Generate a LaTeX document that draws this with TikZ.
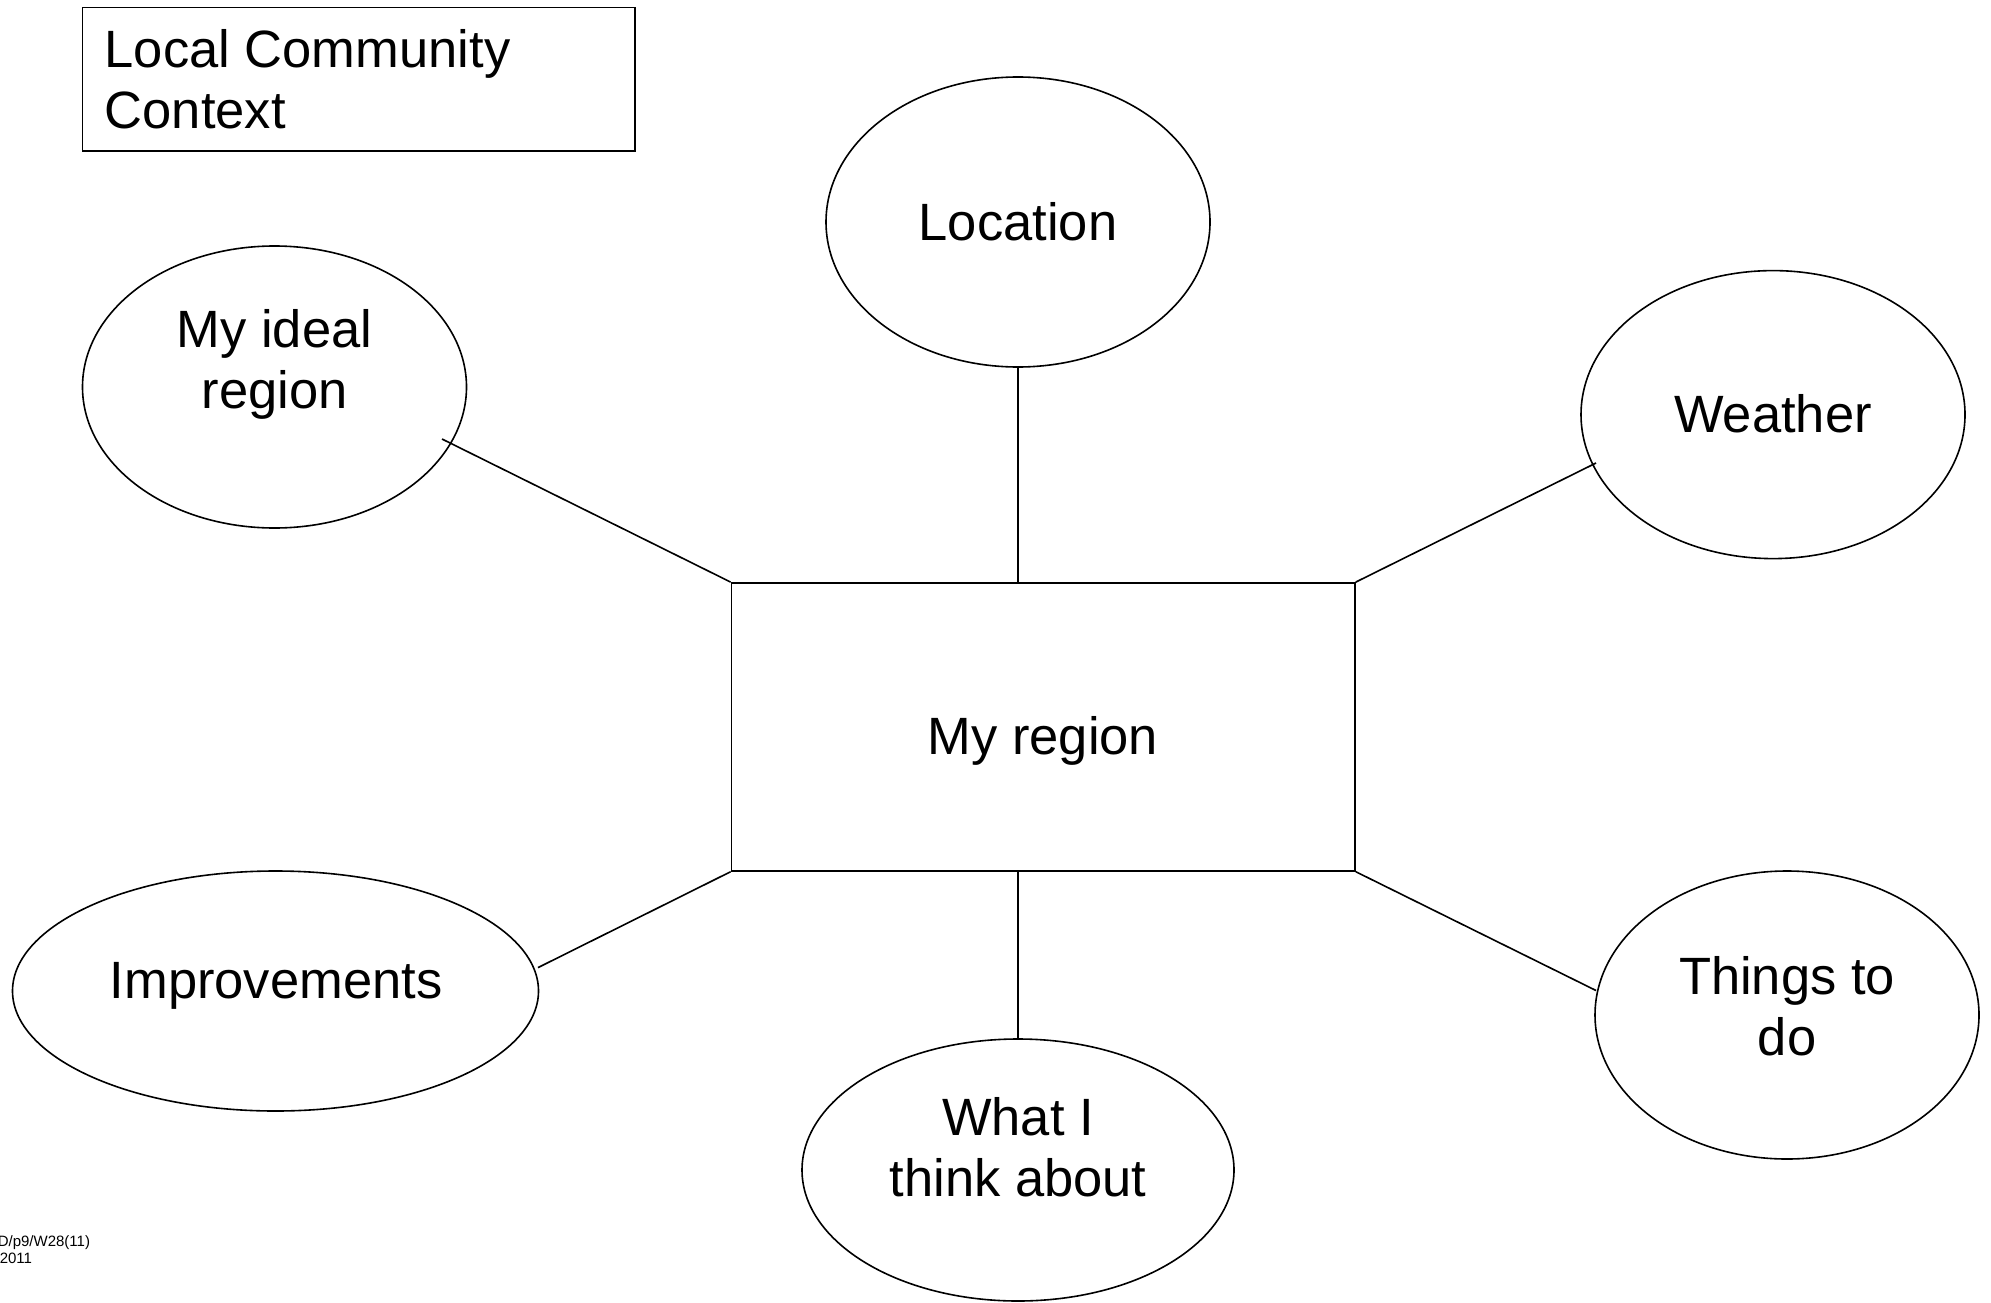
\documentclass[tikz,border=0pt]{standalone}
\usepackage{fontspec}
\setmainfont{Liberation Sans}
\usetikzlibrary{shapes.geometric}
\begin{document}
\begin{tikzpicture}[x=1pt,y=-1pt,
  line width=1.6pt,
  bubble/.style={draw, ellipse, inner sep=0pt},
  label/.style={font=\fontsize{52.5}{61}\selectfont, align=center, inner sep=0pt},
  link/.style={draw, line width=1.6pt}
]
\useasboundingbox (0,0) rectangle (1991,1303);

% title box
\draw (82.5,7.6) rectangle (635,151);
\node[label, align=left, anchor=west] (title) at (104,79) {Local Community\\Context};

% central box
\node[draw, minimum width=623.5pt, minimum height=288pt, inner sep=0pt] (hub) at (1043.2,726.9) {};
\node[label] (hubtext) at (1043,741) {My region};

% surrounding bubbles
\node[bubble, minimum width=384pt, minimum height=290pt] (loc) at (1018,222) {};
\node[label] (loctext) at (1018,222) {Location};

\node[bubble, minimum width=384pt, minimum height=282pt] (ideal) at (274.5,387) {};
\node[label] (idealtext) at (274.5,364) {My ideal\\region};

\node[bubble, minimum width=384pt, minimum height=288pt] (weather) at (1773,414.6) {};
\node[label] (weathertext) at (1773,414) {Weather};

\node[bubble, minimum width=526pt, minimum height=240pt] (impr) at (275.5,991) {};
\node[label] (imprtext) at (276,986) {Improvements};

\node[bubble, minimum width=432pt, minimum height=262pt] (think) at (1018,1170) {};
\node[label] (thinktext) at (1018,1147) {What I\\think about};

\node[bubble, minimum width=384pt, minimum height=288pt] (todo) at (1787,1015) {};
\node[label] (todotext) at (1787,1006) {Things to\\do};

% free ends of the slanted links
\coordinate (idealend) at (442,439);
\coordinate (weatherend) at (1596,463);
\coordinate (imprend) at (538,967.6);
\coordinate (todoend) at (1596,990.5);

% links
\draw[link] (hub.north west) -- (idealend);
\draw[link] (hub.north west -| loc.south) -- (loc.south);
\draw[link] (hub.north east) -- (weatherend);
\draw[link] (hub.south west) -- (imprend);
\draw[link] (hub.south west -| think.north) -- (think.north);
\draw[link] (hub.south east) -- (todoend);

% footer reference
\node[font=\fontsize{15}{17}\selectfont, inner sep=0pt, anchor=base west] (ref1) at (-3,1246) {D/p9/W28(11)};
\node[font=\fontsize{15}{17}\selectfont, inner sep=0pt, anchor=base west] (ref2) at (-1,1263) {2011};
\end{tikzpicture}
\end{document}
